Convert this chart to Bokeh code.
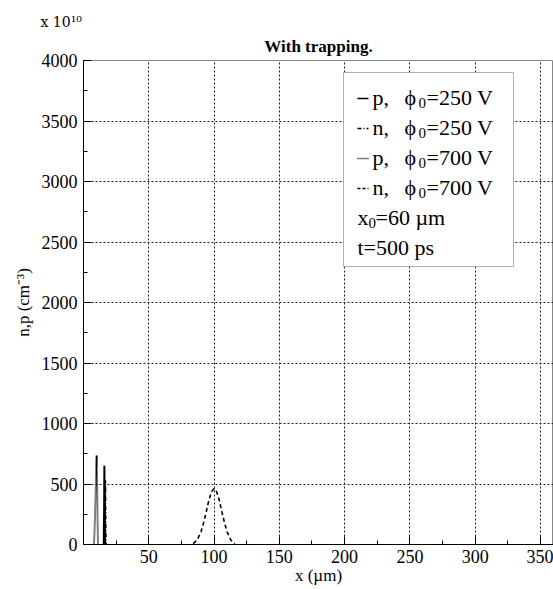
from bokeh.plotting import figure
from bokeh.models import Range1d, FixedTicker, Label, BoxAnnotation, Arrow, Title
from bokeh.embed import file_html
from bokeh.resources import INLINE

# ---- data (y in units of 1e10 cm^-3, x in um) ----
p250_x = [15.5, 15.8, 16.0, 16.2, 16.5]
p250_y = [0, 300, 650, 300, 0]

n250_x = [16.4, 16.6, 16.8, 17.0, 17.2]
n250_y = [0, 250, 530, 250, 0]

p700_x = [8.0, 8.6, 9.2, 9.7, 10.1, 10.5, 10.8, 11.1]
p700_y = [0, 150, 400, 650, 735, 500, 200, 0]

n700_x = [84, 87, 90, 92, 94, 96, 98, 100, 102, 104, 106, 108, 110, 113, 116]
n700_y = [8, 35, 105, 180, 270, 365, 435, 462, 435, 365, 270, 180, 105, 35, 8]

x_ticks = [50, 100, 150, 200, 250, 300, 350]
x_minor = [25, 75, 125, 175, 225, 275, 325]
y_ticks = [0, 500, 1000, 1500, 2000, 2500, 3000, 3500, 4000]
y_minor = [250, 750, 1250, 1750, 2250, 2750, 3250, 3750]

legend_rows = [("p, ", "=250 V", "solid"),
               ("n, ", "=250 V", "4 2 1 2"),
               ("p, ", "=700 V", "1 1"),
               ("n, ", "=700 V", "3 2")]

# ---- layout ----
W, H = 553, 589
L, R, T, B = 83, 0, 60, 45
XMAX, YMAX = 360, 4000
FW, FH = W - L - R, H - T - B


def px2x(px):
    return (px - L) * XMAX / FW


def py2y(py):
    return (H - B - py) * YMAX / FH


FONT = "Liberation Serif"

p = figure(width=W, height=H, output_backend="svg", toolbar_location=None,
           x_range=Range1d(0, XMAX), y_range=Range1d(0, YMAX),
           min_border_left=L, min_border_right=R, min_border_top=T,
           min_border_bottom=B)
p.background_fill_color = "white"
p.border_fill_color = "white"
p.outline_line_color = "#888888"

# outermost title: the scale factor
p.title.text = "x 10\u00b9\u2070"
p.title.align = "left"
p.title.offset = -43
p.title.text_font = "DejaVu Serif"
p.title.text_font_size = "14px"
p.title.text_font_style = "normal"
p.title.text_color = "black"
p.title.standoff = 0
if "padding" in Title.properties():
    p.title.padding = dict(left=0, right=0, top=8, bottom=0)

# chart title, next to the frame
p.add_layout(Title(text="With trapping.", align="center", offset=-7,
                   text_font=FONT, text_font_size="17px",
                   text_font_style="bold", text_color="black",
                   standoff=10), "above")

p.xaxis.ticker = FixedTicker(ticks=x_ticks, minor_ticks=x_minor)
p.yaxis.ticker = FixedTicker(ticks=y_ticks, minor_ticks=y_minor)
for ax in (p.xaxis, p.yaxis):
    ax.axis_line_color = "black"
    ax.major_tick_line_color = "black"
    ax.minor_tick_line_color = "black"
    ax.major_tick_in = 8
    ax.major_tick_out = 0
    ax.minor_tick_in = 4
    ax.minor_tick_out = 0
    ax.major_label_text_font = FONT
    ax.major_label_text_font_size = "18px"
    ax.major_label_text_color = "black"
    ax.major_label_standoff = 6
    ax.axis_label_text_font = FONT
    ax.axis_label_text_font_style = "normal"
    ax.axis_label_text_color = "black"
    ax.axis_label_text_font_size = "17px"

p.xaxis.axis_label = "x (\u00b5m)"
p.xaxis.axis_label_standoff = 0
p.xaxis.major_label_standoff = 5
p.yaxis.axis_label = "n,p (cm\u207b\u00b3)"
p.yaxis.axis_label_standoff = 6

for g in (p.xgrid, p.ygrid):
    g.grid_line_color = "#222222"
    g.grid_line_dash = "2 2"
    g.grid_line_width = 1

# ---- curves ----
p.line(p700_x, p700_y, line_color="black", line_width=2, line_dash="1 1")
p.line(n700_x, n700_y, line_color="black", line_width=1.6, line_dash="4 3")
p.line(n250_x, n250_y, line_color="black", line_width=1.6, line_dash="4 2 1 2")
p.line(p250_x, p250_y, line_color="black", line_width=2)


def label(px, py, text, size, **kw):
    lab = Label(x=px2x(px), y=py2y(py), text=text, text_font=FONT,
                text_font_size=size, text_color="black",
                text_baseline="alphabetic", **kw)
    p.add_layout(lab)


# ---- legend box ----
p.add_layout(BoxAnnotation(left=px2x(343), right=px2x(513), top=py2y(72),
                           bottom=py2y(266), fill_color="white", fill_alpha=1,
                           line_color="black", line_width=1))
base = 97
for i, (a, b, dash) in enumerate(legend_rows):
    by = base + 30 * i
    p.add_layout(Arrow(end=None, x_start=px2x(357), x_end=px2x(368),
                       y_start=py2y(by + 1), y_end=py2y(by + 1),
                       line_color="black", line_width=1.5, line_dash=dash))
    label(372, by, a, "22px")
    label(404, by, "\u03d5", "22px")
    label(418, by + 5, "0", "15px")
    label(426, by, b, "22px")

label(357, 217, "x", "22px")
label(368, 222, "0", "15px")
label(375, 217, "=60 \u00b5m", "22px")
label(357, 247, "t=500 ps", "22px")

open("out.html", "w").write(file_html(p, INLINE))
